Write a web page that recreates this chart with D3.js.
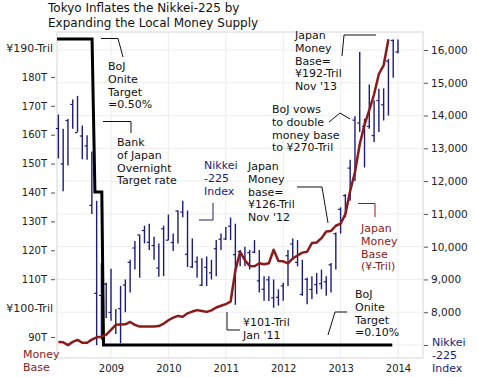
<!DOCTYPE html>
<html>
<head>
<meta charset="utf-8">
<script src="https://cdn.jsdelivr.net/npm/d3@7"></script>
<style>
    body { margin: 0; background: #fff; }
    text { font-family: "DejaVu Sans", Verdana, sans-serif; }
</style>
</head>
<body>
<div id="chart"></div>
<script>
// Nikkei-225 bulanan, Feb 2008 .. Jan 2014 (high / low / close)
const nkStart = { year: 2008, month: 2 };
const nkHigh = [
    14031, 13600, 13894, 14489, 14601, 13700, 13400, 12900, 11400, 9500, 8900,
    9325, 8100, 8800, 9000, 9600, 10170, 10360, 10640, 10700, 10300, 10100, 10640,
    10980, 10400, 11100, 11400, 11100, 10250, 9700, 9650, 9700, 9600, 10200, 10400,
    10600, 10890, 10700, 9900, 10000, 9900, 10200, 9900, 9100, 9100, 9000, 8700,
    8900, 9900, 10250, 10200, 9600, 9050, 9100, 9200, 9300, 9100, 9500, 10430,
    11200, 11600, 12650, 13980, 15942, 13900, 14950, 14470, 14820, 14830, 15730, 16320,
    16320
];
const nkLow = [
    12690, 11691, 12480, 13600, 13500, 12670, 12650, 11000, 6994, 7162, 7820,
    7743, 7333, 7054, 8000, 8600, 9300, 9050, 10100, 9900, 9600, 9080, 9100,
    10200, 9870, 10100, 10900, 9380, 9350, 9050, 8800, 8800, 9000, 9100, 9900,
    10200, 10200, 8227, 9400, 9400, 9300, 9800, 8600, 8350, 8340, 8135, 8200,
    8350, 8800, 9600, 9400, 8500, 8240, 8400, 8550, 8700, 8500, 8600, 9300,
    10400, 10900, 11400, 12000, 13500, 12415, 13600, 13190, 13500, 13850, 14000, 15150,
    15900
];
const nkClose = [
    13603, 12525, 13849, 14338, 13481, 13376, 13072, 11259, 8576, 8512, 8859,
    7994, 7568, 8109, 8828, 9522, 9958, 10357, 10492, 10133, 10034, 9345, 10546,
    10198, 10126, 11089, 11057, 9768, 9382, 9537, 8824, 9369, 9202, 9937, 10228,
    10237, 10624, 9755, 9849, 9693, 9816, 9833, 8955, 8700, 8988, 8434, 8455,
    8802, 9723, 10083, 9521, 8543, 9007, 8695, 8840, 8870, 8928, 9446, 10395,
    11138, 11559, 12397, 13860, 13774, 13677, 13668, 13389, 14456, 14328, 15662, 16291,
    15940
];

// Japan Money Base (¥-Tril), Feb 2008 .. Nov 2013
const mbStart = { year: 2008, month: 2 };
const moneyBase = [
    88.3, 88.2, 87.2, 88.3, 89.0, 88.0, 88.0, 89.1, 89.9, 90.1, 90.8,
    92.5, 94.2, 94.3, 94.4, 95.2, 94.2, 93.6, 93.6, 93.6, 93.6, 93.8, 94.6,
    95.8, 96.7, 97.3, 97.0, 98.2, 98.8, 99.3, 99.0, 98.7, 99.2, 100.2, 100.8,
    101.4, 102.2, 113.0, 119.5, 116.5, 114.6, 114.5, 115.5, 115.2, 115.5, 120.2, 116.3,
    116.2, 115.5, 117.2, 118.2, 119.2, 119.5, 122.5, 122.7, 124.2, 126.5, 126.7, 128.5,
    129.2, 132.5, 140.5, 147.0, 156.7, 163.5, 168.5, 174.0, 181.0, 184.0, 193.0
];

// BoJ overnight target rate (%), titik tangga
const rateTime = [2008.06, 2008.67, 2008.72, 2008.84, 2008.87, 2013.9];
const rateValue = [0.5, 0.5, 0.3, 0.3, 0.1, 0.1];

// Label sumbu
const years = [2009, 2010, 2011, 2012, 2013, 2014];
const mbTicks = [90, 110, 120, 130, 140, 150, 160, 170, 180];
const mbSpecial = [190, 100];
const nkTicks = [7000, 8000, 9000, 10000, 11000, 12000, 13000, 14000, 15000, 16000];

const navy = "#1c1c7a";
const darkRed = "#8b1a1a";

const svg = d3.select("#chart").append("svg")
    .attr("width", 478)
    .attr("height", 377);

const plot = { left: 57, right: 423, top: 32, bottom: 358 };

// Skala
const x = d3.scaleLinear().domain([2009, 2014]).range([111, 398]);
const yMB = d3.scaleLinear().domain([90, 190]).range([337, 48]);
const yNK = d3.scaleLinear().domain([7000, 16000]).range([345, 50]);
const yRate = d3.scaleLinear().domain([0.1, 0.5]).range([345, 39]);

const monthT = (start, i) => start.year + (start.month - 1 + i) / 12;

// Grid
svg.append("g").selectAll("line")
    .data(nkTicks)
    .enter().append("line")
    .attr("x1", plot.left).attr("x2", plot.right)
    .attr("y1", d => yNK(d)).attr("y2", d => yNK(d))
    .attr("stroke", "#ededed");

svg.append("g").selectAll("line")
    .data(years)
    .enter().append("line")
    .attr("x1", d => x(d)).attr("x2", d => x(d))
    .attr("y1", plot.top).attr("y2", plot.bottom)
    .attr("stroke", "#ededed");

// Bingkai
svg.append("path")
    .attr("d", `M${plot.left},${plot.top}V${plot.bottom}H${plot.right}V${plot.top}H${plot.left}`)
    .attr("fill", "none")
    .attr("stroke", "#d6d6d6");

// Sumbu kiri
const axL = svg.append("g")
    .attr("transform", "translate(55,0)")
    .call(d3.axisLeft(yMB).tickValues(mbTicks).tickSize(4).tickPadding(4).tickFormat(d => d + "T"));
axL.select(".domain").remove();
axL.selectAll("line").attr("stroke", "#555");
axL.selectAll("text").style("font-size", "10px").attr("fill", "#222")
    .style("font-family", "DejaVu Sans");

svg.append("g").selectAll("text")
    .data(mbSpecial)
    .enter().append("text")
    .attr("x", 53)
    .attr("y", d => yMB(d) + 4)
    .attr("text-anchor", "end")
    .style("font-size", "11px")
    .attr("fill", "#222")
    .text(d => "¥" + d + "-Tril");

// Sumbu kanan
const axR = svg.append("g")
    .attr("transform", "translate(424,0)")
    .call(d3.axisRight(yNK).tickValues(nkTicks).tickSize(4).tickPadding(3)
        .tickFormat(d => d === 7000 ? "" : d3.format(",")(d)));
axR.select(".domain").remove();
axR.selectAll("line").attr("stroke", "#555");
axR.selectAll("text").style("font-size", "10.5px").attr("fill", "#222")
    .style("font-family", "DejaVu Sans");

// Sumbu bawah
const axB = svg.append("g")
    .attr("transform", `translate(0,${plot.bottom})`)
    .call(d3.axisBottom(x).tickValues(years).tickSize(0).tickPadding(7).tickFormat(d3.format("d")));
axB.select(".domain").remove();
axB.selectAll("text").style("font-size", "10px").attr("fill", "#222")
    .style("font-family", "DejaVu Sans");

// Nikkei bar high-low-close
const nk = nkHigh.map((h, i) => ({ t: monthT(nkStart, i), h, l: nkLow[i], c: nkClose[i] }));
const gNK = svg.append("g");
gNK.selectAll(".hl")
    .data(nk)
    .enter().append("line")
    .attr("class", "hl")
    .attr("x1", d => x(d.t)).attr("x2", d => x(d.t))
    .attr("y1", d => yNK(d.h)).attr("y2", d => yNK(d.l))
    .attr("stroke", navy)
    .attr("stroke-width", 1.4);
gNK.selectAll(".cl")
    .data(nk)
    .enter().append("line")
    .attr("class", "cl")
    .attr("x1", d => x(d.t) - 2.5).attr("x2", d => x(d.t))
    .attr("y1", d => yNK(d.c)).attr("y2", d => yNK(d.c))
    .attr("stroke", navy)
    .attr("stroke-width", 1.2);

// Garis suku bunga BoJ
const rate = rateTime.map((t, i) => ({ t, r: rateValue[i] }));
svg.append("path")
    .datum(rate)
    .attr("fill", "none")
    .attr("stroke", "#000")
    .attr("stroke-width", 3)
    .attr("d", d3.line().x(d => x(d.t)).y(d => yRate(d.r)));

// Garis money base
const mb = moneyBase.map((v, i) => ({ t: monthT(mbStart, i), v }));
svg.append("path")
    .datum(mb)
    .attr("fill", "none")
    .attr("stroke", darkRed)
    .attr("stroke-width", 2.5)
    .attr("stroke-linejoin", "round")
    .attr("d", d3.line().x(d => x(d.t)).y(d => yMB(d.v)));

// Judul
svg.append("text")
    .attr("x", 48).attr("y", 12)
    .style("font-size", "12px")
    .attr("fill", "#111")
    .selectAll("tspan")
    .data(["Tokyo Inflates the Nikkei-225 by", "Expanding the Local Money Supply"])
    .enter().append("tspan")
    .attr("x", 48)
    .attr("dy", (d, i) => i === 0 ? 0 : 15)
    .text(d => d);

// Catatan teks
function note(lines, xPos, yCenter, color) {
    svg.append("text")
        .attr("x", xPos).attr("y", yCenter + 4)
        .style("font-size", "11px")
        .attr("fill", color || "#111")
        .selectAll("tspan")
        .data(lines)
        .enter().append("tspan")
        .attr("x", xPos)
        .attr("dy", (d, i) => i === 0 ? 0 : 12.8)
        .text(d => d);
}

function callout(pts, color) {
    svg.append("path")
        .attr("d", d3.line()(pts))
        .attr("fill", "none")
        .attr("stroke", color || "#111")
        .attr("stroke-width", 1);
}

note(["BoJ", "Onite", "Target", "=0.50%"], 108, 66);
callout([[101, 38.5], [118, 38.5], [123, 57]]);

note(["Bank", "of Japan", "Overnight", "Target rate"], 117, 142);
callout([[103, 121.5], [131, 121.5], [131, 133]]);

note(["Nikkei", "-225", "Index"], 204, 165, navy);
callout([[199, 220], [213, 220], [213, 203]], navy);

note(["Japan", "Money", "base=", "¥126-Tril", "Nov '12"], 248, 166);
callout([[297, 187], [322, 187], [328, 223]]);

note(["BoJ vows", "to double", "money base", "to ¥270-Tril"], 272, 109);
callout([[329, 122], [340, 113], [350, 119]]);

note(["Japan", "Money", "Base=", "¥192-Tril", "Nov '13"], 295, 35);
callout([[342, 56], [344, 35], [376, 35]]);

note(["Japan", "Money", "Base", "(¥-Tril)"], 361, 228, darkRed);
callout([[358, 203.5], [375, 203.5], [375, 217]], darkRed);

note(["BoJ", "Onite", "Target", "=0.10%"], 355, 294);
callout([[328, 335], [335, 312], [347, 312]]);

note(["¥101-Tril", "Jan '11"], 243, 322);
callout([[227, 312], [227, 330], [240, 330]]);

note(["Money", "Base"], 23, 354, darkRed);
note(["Nikkei", "-225", "Index"], 432, 342, navy);
</script>
</body>
</html>
